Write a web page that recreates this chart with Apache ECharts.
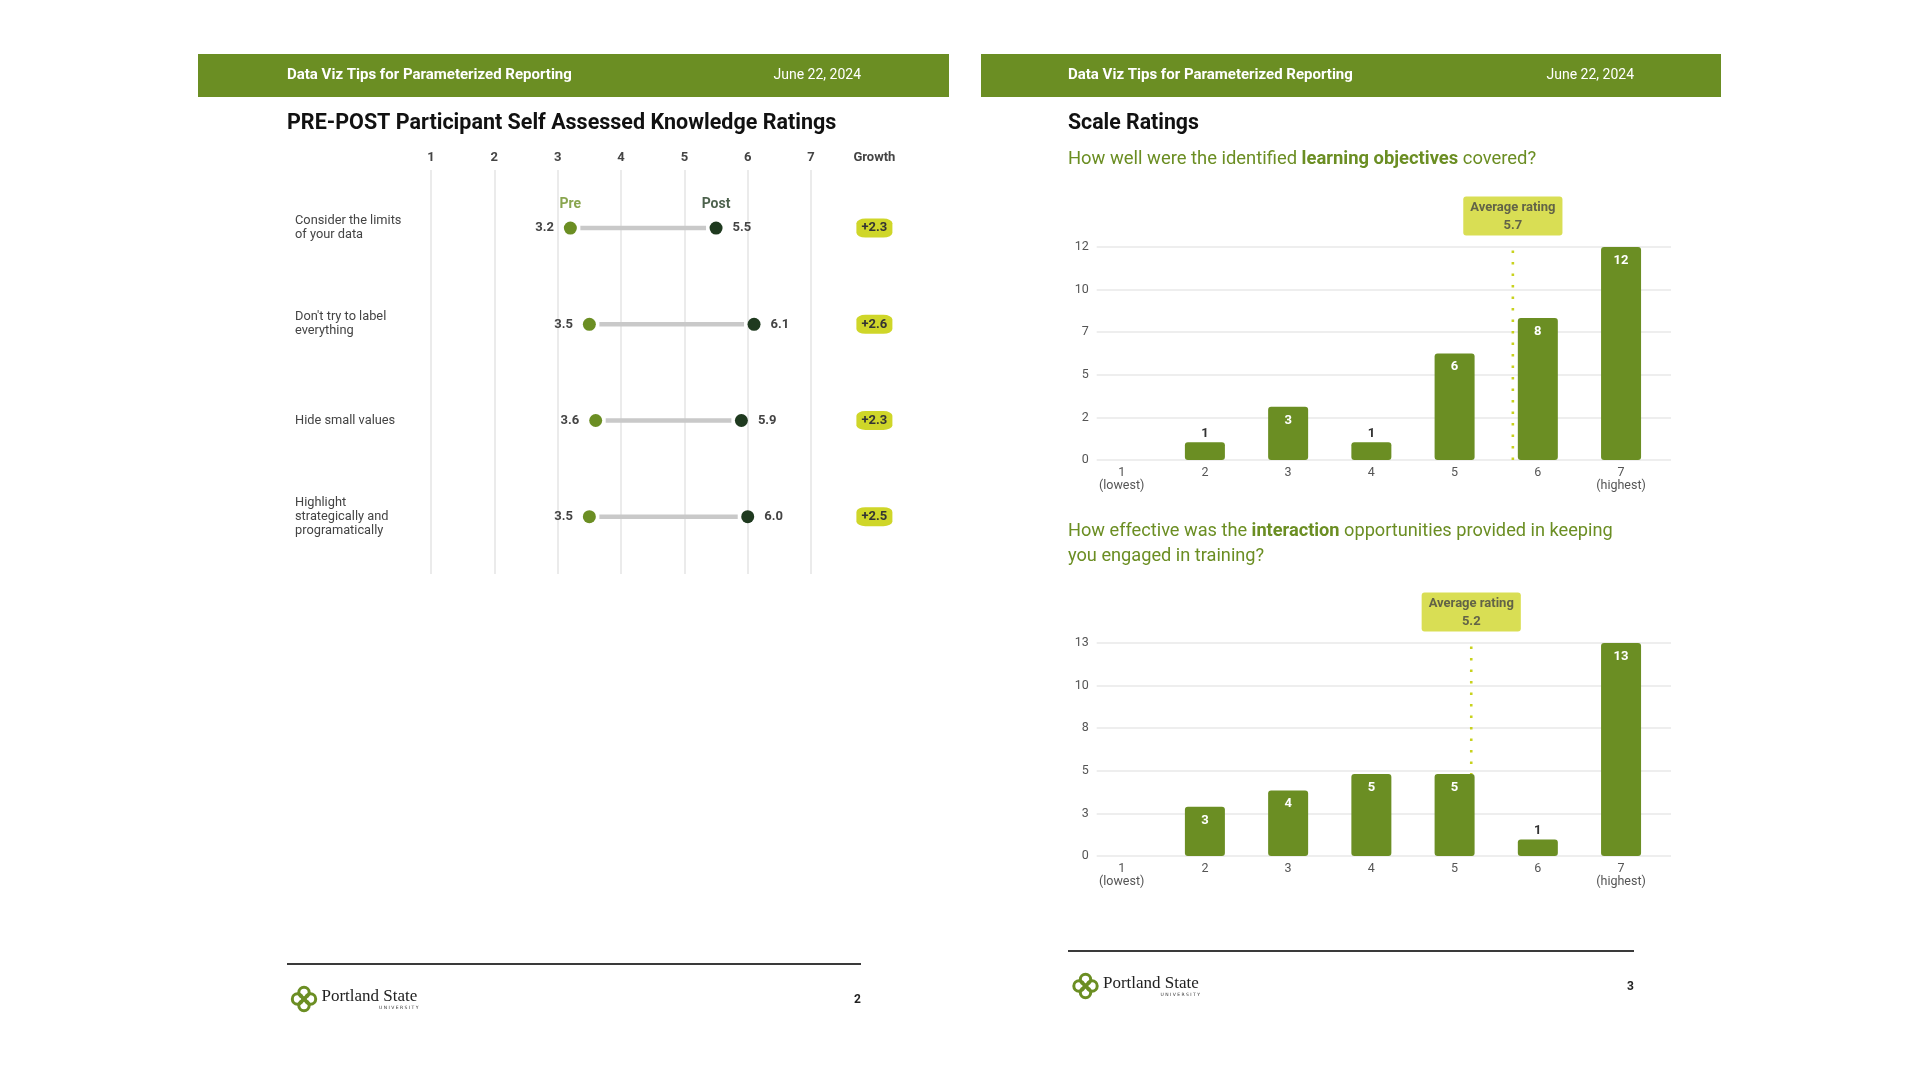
<!DOCTYPE html>
<html>
<head>
<meta charset="utf-8">
<script src="https://cdn.jsdelivr.net/npm/echarts@6/dist/echarts.min.js"></script>
<style>
html,body{margin:0;padding:0;background:#ffffff;}
#chart{width:1920px;height:1080px;}
</style>
</head>
<body>
<div id="chart"></div>
<script>
// ---------- DATA ----------
const rowLabels = ['Consider the limits\nof your data', "Don't try to label\neverything", 'Hide small values', 'Highlight\nstrategically and\nprogramatically'];
const preValues = [3.2, 3.5, 3.6, 3.5];
const postValues = [5.5, 6.1, 5.9, 6.0];
const growthLabels = ['+2.3', '+2.6', '+2.3', '+2.5'];
const seriesHeaders = ['Pre', 'Post'];
const knowledgeAxisLabels = ['1', '2', '3', '4', '5', '6', '7', 'Growth'];

const ratingTicks = [1, 2, 3, 4, 5, 6, 7];
const scaleCategories = ['1\n(lowest)', '2', '3', '4', '5', '6', '7\n(highest)'];
const objectivesCounts = [0, 1, 3, 1, 6, 8, 12];
const interactionCounts = [0, 3, 4, 5, 5, 1, 13];
const objectivesAverage = 5.7;
const interactionAverage = 5.2;
const objectivesAxisMax = 12;
const interactionAxisMax = 13;
const averageLabel = 'Average rating';

// ---------- STYLE ----------
const F = 'Roboto';
const GREEN = '#6b8e23';
const DARK = '#1f3a1f';
const LIME = '#cfd629';
const TEXT = '#444444';

const chart = echarts.init(document.getElementById('chart'));

function logo(x, y) {
  const c = [[0, -6.5], [6.5, 0], [0, 6.5], [-6.5, 0]];
  const children = c.map(p => ({
    type: 'circle', shape: { cx: x + 12.5 + p[0], cy: y + p[1], r: 5.2 },
    style: { fill: 'none', stroke: GREEN, lineWidth: 3 }
  }));
  children.push({ type: 'text', x: x + 30, y: y - 2, style: { text: 'Portland State', fontFamily: 'Liberation Serif', fontSize: 17, fill: '#222', verticalAlign: 'middle' } });
  children.push({ type: 'text', x: x + 127, y: y + 9, style: { text: 'U N I V E R S I T Y', fontFamily: 'DejaVu Sans', fontSize: 4.5, fill: '#333', align: 'right', verticalAlign: 'middle' } });
  return { type: 'group', children };
}

function barData(counts) {
  return counts.map((v, i) => ({
    value: [ratingTicks[i], v],
    label: v >= 2
      ? { show: true, position: 'insideTop', distance: 7, color: '#ffffff' }
      : { show: v > 0, position: 'top', distance: 2, color: '#333333' }
  }));
}

function barSeries(counts, idx) {
  return {
    type: 'bar', xAxisIndex: idx, yAxisIndex: idx, z: 3,
    barWidth: 40,
    itemStyle: { color: GREEN, borderRadius: 3, opacity: 1 },
    label: { fontFamily: F, fontSize: 13, fontWeight: 'bold', formatter: p => p.value[1] },
    data: barData(counts)
  };
}

function avgLine(avg, max, idx) {
  return {
    type: 'line', xAxisIndex: idx, yAxisIndex: idx, z: 2,
    symbol: 'none', silent: true,
    lineStyle: { color: '#c8d21e', width: 2.6, type: [2.5, 9] },
    data: [[avg, 0], [avg, max]]
  };
}

function avgBadge(avg, max, idx) {
  return {
    type: 'scatter', xAxisIndex: idx, yAxisIndex: idx, z: 4,
    symbolSize: 1, itemStyle: { color: 'rgba(0,0,0,0)' }, silent: true,
    label: {
      show: true, position: 'top', distance: 11,
      formatter: p => averageLabel + '\n' + p.value[0].toFixed(1),
      backgroundColor: LIME, borderRadius: 3, padding: [2, 7, 1, 7],
      color: TEXT, fontFamily: F, fontSize: 13, fontWeight: 'bold', lineHeight: 18, align: 'center'
    },
    data: [[avg, max]]
  };
}

function barXAxis(gi) {
  return {
    gridIndex: gi, type: 'value', min: 0.7, max: 7.6,
    axisLine: { show: false }, axisTick: { show: false }, splitLine: { show: false },
    axisLabel: {
      customValues: ratingTicks, formatter: v => scaleCategories[Math.round(v) - 1],
      margin: 6, fontFamily: F, fontSize: 12.5, color: '#555', lineHeight: 13.5
    }
  };
}

function barYAxis(gi, max) {
  return {
    gridIndex: gi, type: 'value', min: 0, max: max, interval: max / 5,
    axisLine: { show: false }, axisTick: { show: false },
    axisLabel: { formatter: v => String(Math.round(v)), margin: 8, fontFamily: F, fontSize: 12.5, color: '#555' },
    splitLine: { lineStyle: { color: '#e8e8e8', width: 1.5 } }
  };
}

const option = {
  backgroundColor: '#ffffff',
  animation: false,
  textStyle: { fontFamily: F },
  grid: [
    { left: 431, top: 170, width: 443.4, height: 404 },
    { left: 431, top: 180, width: 443.4, height: 384.8 },
    { left: 1096.7, top: 247, width: 574.3, height: 213 },
    { left: 1096.7, top: 643, width: 574.3, height: 213 }
  ],
  xAxis: [
    {
      gridIndex: 0, type: 'value', min: 1, max: 8, interval: 1, position: 'top',
      axisLine: { show: false }, axisTick: { show: false },
      axisLabel: { margin: 6, fontFamily: F, fontSize: 13, fontWeight: 'bold', color: TEXT, formatter: v => knowledgeAxisLabels[Math.round(v) - 1] },
      splitLine: { show: true, showMaxLine: false, lineStyle: { color: ['#e4e4e4', '#e4e4e4', '#e4e4e4', '#e4e4e4', '#e4e4e4', '#e4e4e4', '#e4e4e4', 'rgba(0,0,0,0)'], width: 1.5 } }
    },
    { gridIndex: 1, type: 'value', min: 1, max: 8, show: false },
    barXAxis(2),
    barXAxis(3)
  ],
  yAxis: [
    { gridIndex: 0, type: 'value', min: 0, max: 1, show: false },
    {
      gridIndex: 1, type: 'category', inverse: true, data: rowLabels,
      axisLine: { show: false }, axisTick: { show: false }, splitLine: { show: false },
      axisLabel: { align: 'left', margin: 136, fontFamily: F, fontSize: 12.8, lineHeight: 14, color: TEXT, padding: [2, 0, 0, 0] }
    },
    barYAxis(2, objectivesAxisMax),
    barYAxis(3, interactionAxisMax)
  ],
  series: [
    {
      type: 'custom', xAxisIndex: 1, yAxisIndex: 1, silent: true, z: 1,
      encode: { x: [0, 1], y: 2 },
      renderItem: (params, api) => {
        const a = api.coord([api.value(0), api.value(2)]);
        const b = api.coord([api.value(1), api.value(2)]);
        return { type: 'line', shape: { x1: a[0] + 10, y1: a[1], x2: b[0] - 10, y2: b[1] }, style: { stroke: '#c9c9c9', lineWidth: 4.5 } };
      },
      data: preValues.map((v, i) => [v, postValues[i], i])
    },
    {
      type: 'scatter', xAxisIndex: 1, yAxisIndex: 1, z: 3, symbolSize: 13,
      itemStyle: { color: GREEN, opacity: 1 },
      label: { show: true, position: 'left', distance: 10, formatter: p => p.value[0].toFixed(1), fontFamily: F, fontSize: 13, fontWeight: 'bold', color: TEXT },
      data: preValues.map((v, i) => [v, i])
    },
    {
      type: 'scatter', xAxisIndex: 1, yAxisIndex: 1, z: 3, symbolSize: 13,
      itemStyle: { color: DARK, opacity: 1 },
      label: { show: true, position: 'right', distance: 10, formatter: p => p.value[0].toFixed(1), fontFamily: F, fontSize: 13, fontWeight: 'bold', color: TEXT },
      data: postValues.map((v, i) => [v, i])
    },
    {
      type: 'scatter', xAxisIndex: 1, yAxisIndex: 1, z: 3, symbolSize: 1, silent: true,
      itemStyle: { color: 'rgba(0,0,0,0)' },
      label: { show: true, position: 'top', distance: 16, fontFamily: F, fontSize: 14, fontWeight: 'bold', formatter: p => seriesHeaders[p.dataIndex] },
      data: [
        { value: [preValues[0], 0], label: { color: GREEN } },
        { value: [postValues[0], 0], label: { color: DARK } }
      ]
    },
    {
      type: 'scatter', xAxisIndex: 1, yAxisIndex: 1, z: 3,
      symbol: 'roundRect', symbolSize: [36, 19],
      itemStyle: { color: LIME, opacity: 1 },
      label: { show: true, position: 'inside', formatter: p => growthLabels[p.dataIndex], fontFamily: F, fontSize: 13, fontWeight: 'bold', color: '#333' },
      data: growthLabels.map((g, i) => [8, i])
    },
    avgLine(objectivesAverage, objectivesAxisMax, 2),
    barSeries(objectivesCounts, 2),
    avgBadge(objectivesAverage, objectivesAxisMax, 2),
    avgLine(interactionAverage, interactionAxisMax, 3),
    barSeries(interactionCounts, 3),
    avgBadge(interactionAverage, interactionAxisMax, 3)
  ],
  graphic: [
    { type: 'rect', shape: { x: 198, y: 54, width: 751, height: 43 }, style: { fill: GREEN } },
    { type: 'rect', shape: { x: 981, y: 54, width: 740, height: 43 }, style: { fill: GREEN } },
    { type: 'text', x: 287, y: 75.5, style: { text: 'Data Viz Tips for Parameterized Reporting', fontFamily: F, fontSize: 15, fontWeight: 'bold', fill: '#fff', verticalAlign: 'middle' } },
    { type: 'text', x: 861, y: 75.5, style: { text: 'June 22, 2024', fontFamily: F, fontSize: 14, fill: '#fff', align: 'right', verticalAlign: 'middle' } },
    { type: 'text', x: 1068, y: 75.5, style: { text: 'Data Viz Tips for Parameterized Reporting', fontFamily: F, fontSize: 15, fontWeight: 'bold', fill: '#fff', verticalAlign: 'middle' } },
    { type: 'text', x: 1634, y: 75.5, style: { text: 'June 22, 2024', fontFamily: F, fontSize: 14, fill: '#fff', align: 'right', verticalAlign: 'middle' } },
    { type: 'text', x: 287, y: 124, style: { text: 'PRE-POST Participant Self Assessed Knowledge Ratings', fontFamily: F, fontSize: 21.5, fontWeight: 'bold', fill: '#111', verticalAlign: 'middle' } },
    { type: 'text', x: 1068, y: 124, style: { text: 'Scale Ratings', fontFamily: F, fontSize: 21.3, fontWeight: 'bold', fill: '#111', verticalAlign: 'middle' } },
    { type: 'text', x: 1068, y: 159, style: {
        text: '{n|How well were the identified }{b|learning objectives}{n| covered?}', verticalAlign: 'middle',
        rich: { n: { fontFamily: F, fontSize: 18.4, fill: GREEN }, b: { fontFamily: F, fontSize: 18.4, fontWeight: 'bold', fill: GREEN } } } },
    { type: 'text', x: 1068, y: 544, style: {
        text: '{n|How effective was the }{b|interaction}{n| opportunities provided in keeping}\n{n|you engaged in training?}', verticalAlign: 'middle',
        rich: { n: { fontFamily: F, fontSize: 18.2, fill: GREEN, lineHeight: 25 }, b: { fontFamily: F, fontSize: 18.2, fontWeight: 'bold', fill: GREEN, lineHeight: 25 } } } },
    { type: 'line', shape: { x1: 287, y1: 964, x2: 861, y2: 964 }, style: { stroke: '#3a3a3a', lineWidth: 2 } },
    { type: 'line', shape: { x1: 1068, y1: 951, x2: 1634, y2: 951 }, style: { stroke: '#3a3a3a', lineWidth: 2 } },
    logo(291.5, 999),
    logo(1073, 986),
    { type: 'text', x: 861, y: 1000, style: { text: '2', fontFamily: F, fontSize: 12, fontWeight: 'bold', fill: '#222', align: 'right', verticalAlign: 'middle' } },
    { type: 'text', x: 1634, y: 987, style: { text: '3', fontFamily: F, fontSize: 12, fontWeight: 'bold', fill: '#222', align: 'right', verticalAlign: 'middle' } }
  ]
};
chart.setOption(option);
</script>
</body>
</html>
